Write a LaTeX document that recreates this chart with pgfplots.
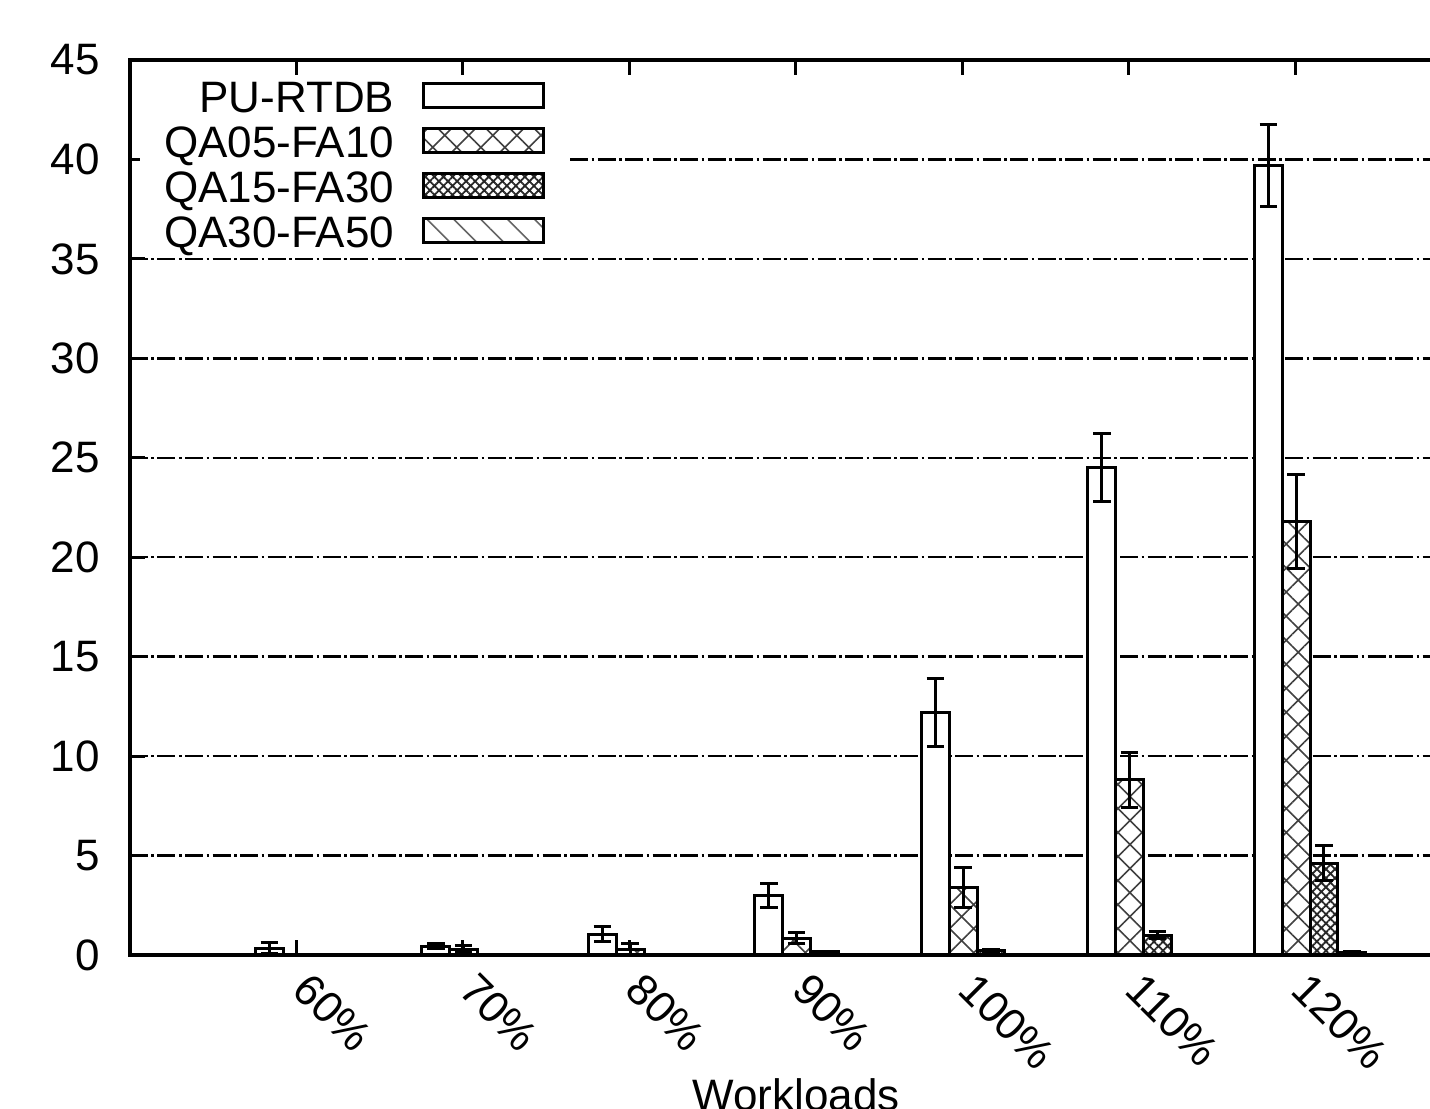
\documentclass[border=0pt]{standalone}
\usepackage{fontspec}
\setmainfont{Liberation Sans}
\usepackage{pgfplots}
\usepackage{pgfplotstable}
\pgfplotsset{compat=1.18}
\usetikzlibrary{patterns.meta}

\pgfplotstableread{
x y e
0 0.35 0.27
1 0.45 0.12
2 1.05 0.37
3 3.0 0.6
4 12.2 1.7
5 24.5 1.7
6 39.7 2.05
}\tPU
\pgfplotstableread{
x y e
0 0 0
1 0.3 0.2
2 0.3 0.3
3 0.85 0.28
4 3.4 1.0
5 8.8 1.4
6 21.8 2.35
}\tQAa
\pgfplotstableread{
x y e
0 0 0
1 0 0
2 0 0
3 0.15 0.05
4 0.25 0.05
5 1.0 0.17
6 4.6 0.88
}\tQAb
\pgfplotstableread{
x y e
0 0 0
1 0 0
2 0 0
3 0 0
4 0 0
5 0 0
6 0.12 0.03
}\tQAc

\pgfplotsset{
  mybar/.style={ybar, bar width=0.167, bar shift=0pt, line width=1.5pt, draw=black,
    legend image code/.code={\draw[##1,/tikz/.cd] (0pt,-4pt) rectangle (60pt,8pt);}},
  myerr/.style={error bars/.cd, y dir=both, y explicit,
    error bar style={line width=1.5pt, black, solid},
    error mark=-,
    error mark options={rotate=90, line width=1.5pt, mark size=4.4pt, black, solid}},
}

\begin{document}
\begin{tikzpicture}
\begin{axis}[
  name=ax,
  scale only axis,
  width=666pt, height=447.5pt,
  xmin=-1, xmax=7, ymin=0, ymax=45,
  xtick={0,...,6},
  xticklabels={60\%,70\%,80\%,90\%,100\%,110\%,120\%},
  ytick={0,5,...,45},
  tick align=inside,
  major tick length=7.5pt,
  tick style={line width=1.5pt, black},
  axis line style={line width=1.6pt},
  ymajorgrids,
  grid style={black, line width=1.2pt, dash pattern=on 9pt off 1.75pt on 1.25pt off 1.75pt},
  tick label style={font=\fontsize{22}{26}\selectfont},
  /pgf/number format/assume math mode=true,
  yticklabel style={inner sep=0pt, xshift=-15pt},
  xticklabel style={inner sep=0pt, anchor=north west, xshift=8pt, yshift=-7.5pt, rotate=-45},
  xlabel={Workloads},
  xlabel style={at={(axis description cs:0.5,0)}, anchor=north, inner sep=0pt, yshift=-61.5pt, font=\fontsize{22}{26}\selectfont},
  legend plot pos=right,
  legend cell align=right,
  legend style={at={(0.330,0.980)}, anchor=north east, draw=none, fill=white,
    font=\fontsize{22}{26}\selectfont, column sep=14pt, row sep=3.5pt,
    inner xsep=12pt, inner ysep=1pt,
    nodes={inner sep=0pt, text height=16pt, text depth=3pt}},
]
\addplot[mybar, fill=white, myerr] table[x expr=\thisrow{x}-0.163, y=y, y error=e] {\tPU};
\addlegendentry{PU-RTDB}
\addplot[mybar, fill=white,
  postaction={pattern={Hatch[angle=45,distance=8.5pt,line width=0.8pt]}, pattern color=black!75}, myerr]
  table[x expr=\thisrow{x}+0.004, y=y, y error=e] {\tQAa};
\addlegendentry{QA05-FA10}
\addplot[mybar, fill=white,
  postaction={pattern={Hatch[angle=45,distance=3.2pt,line width=0.9pt]}, pattern color=black!85}, myerr]
  table[x expr=\thisrow{x}+0.171, y=y, y error=e] {\tQAb};
\addlegendentry{QA15-FA30}
\addplot[mybar, fill=white,
  postaction={pattern={Lines[angle=-45,distance=9.5pt,line width=0.8pt]}, pattern color=black!60}, myerr]
  table[x expr=\thisrow{x}+0.338, y=y, y error=e] {\tQAc};
\addlegendentry{QA30-FA50}
\end{axis}
\pgfresetboundingbox
\path[use as bounding box] ([xshift=-65pt,yshift=-77pt]ax.south west) rectangle ([xshift=650pt,yshift=30pt]ax.north west);
\end{tikzpicture}
\end{document}
